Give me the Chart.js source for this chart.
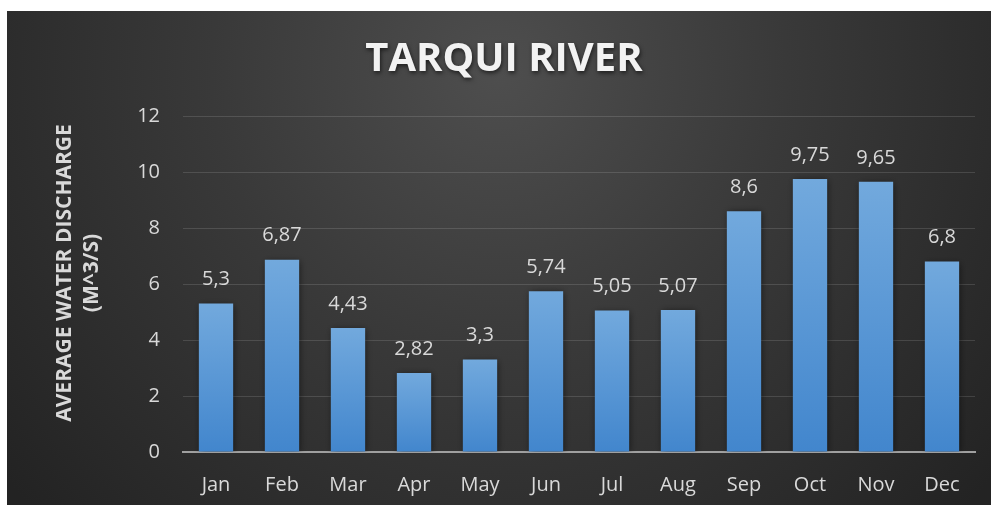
<!DOCTYPE html>
<html>
<head>
<meta charset="utf-8">
<script src="https://cdn.jsdelivr.net/npm/chart.js@4.4.0/dist/chart.umd.min.js"></script>
<style>
  html, body { margin: 0; padding: 0; background: #fff; }
  #wrap { position: absolute; left: 7px; top: 11px; width: 984px; height: 494px; }
</style>
</head>
<body>
<div id="wrap"><canvas id="myChart"></canvas></div>
<script>
// data
const months = ['Jan', 'Feb', 'Mar', 'Apr', 'May', 'Jun', 'Jul', 'Aug', 'Sep', 'Oct', 'Nov', 'Dec']
const discharge = [5.3, 6.87, 4.43, 2.82, 3.3, 5.74, 5.05, 5.07, 8.6, 9.75, 9.65, 6.8]
const yTicks = [0, 2, 4, 6, 8, 10, 12]
const chartTitle = 'TARQUI RIVER'
const yTitle = ['AVERAGE WATER DISCHARGE', '(M^3/S)']

const FONT = "'Open Sans', 'DejaVu Sans', sans-serif"

// dark background, lighter round the title
const bgPlugin = {
  id: 'bg',
  beforeDraw(chart) {
    const ctx = chart.ctx
    const w = chart.width, h = chart.height
    const g = ctx.createRadialGradient(w / 2, 60, 0, w / 2, 60, 640)
    g.addColorStop(0, '#4e4e4e')
    g.addColorStop(0.45, '#393939')
    g.addColorStop(1, '#232323')
    ctx.save()
    ctx.fillStyle = g
    ctx.fillRect(0, 0, w, h)
    ctx.restore()
  }
}

// soft shadow behind the bars
const shadowPlugin = {
  id: 'barShadow',
  beforeDatasetsDraw(chart) {
    chart.ctx.save()
    chart.ctx.shadowColor = 'rgba(0,0,0,0.55)'
    chart.ctx.shadowBlur = 7
    chart.ctx.shadowOffsetX = 1
    chart.ctx.shadowOffsetY = 1
  },
  afterDatasetsDraw(chart) {
    chart.ctx.restore()
  }
}

// value labels above each bar, comma decimals
const labelPlugin = {
  id: 'valueLabels',
  afterDatasetsDraw(chart) {
    const ctx = chart.ctx
    const meta = chart.getDatasetMeta(0)
    ctx.save()
    ctx.font = '20px ' + FONT
    ctx.fillStyle = '#d9d9d9'
    ctx.textAlign = 'center'
    ctx.textBaseline = 'middle'
    meta.data.forEach((bar, i) => {
      const txt = String(discharge[i]).replace('.', ',')
      ctx.fillText(txt, bar.x, bar.y - 24)
    })
    ctx.restore()
  }
}

// chart title with a little shadow, and the two-line vertical axis title
const titlesPlugin = {
  id: 'titles',
  afterDraw(chart) {
    const ctx = chart.ctx
    const area = chart.chartArea

    ctx.save()
    ctx.font = 'bold 40px ' + FONT
    ctx.fillStyle = '#f2f2f2'
    ctx.textAlign = 'center'
    ctx.textBaseline = 'middle'
    ctx.shadowColor = 'rgba(0,0,0,0.6)'
    ctx.shadowBlur = 4
    ctx.shadowOffsetX = 1
    ctx.shadowOffsetY = 2
    ctx.fillText(chartTitle, 497, 49)
    ctx.restore()

    const cy = (area.top + area.bottom) / 2 - 11
    ctx.save()
    ctx.font = 'bold 21px ' + FONT
    ctx.fillStyle = '#d9d9d9'
    ctx.textAlign = 'center'
    ctx.textBaseline = 'middle'
    yTitle.forEach((line, i) => {
      ctx.save()
      ctx.translate(58 + i * 27, cy)
      ctx.rotate(-Math.PI / 2)
      ctx.fillText(line, 0, 0)
      ctx.restore()
    })
    ctx.restore()
  }
}

function barGradient(context) {
  const chart = context.chart
  const yScale = chart.scales.y
  if (!chart.chartArea || !yScale) return '#5b9bd5'
  const top = yScale.getPixelForValue(context.raw)
  const bottom = yScale.getPixelForValue(0)
  if (!isFinite(top) || !isFinite(bottom) || top === bottom) return '#5b9bd5'
  const g = chart.ctx.createLinearGradient(0, top, 0, bottom)
  g.addColorStop(0, 'rgb(114,169,221)')
  g.addColorStop(1, 'rgb(66,134,205)')
  return g
}

const ctx = document.getElementById('myChart')
new Chart(ctx, {
  type: 'bar',
  data: {
    labels: months,
    datasets: [{
      label: 'Average water discharge',
      data: discharge,
      backgroundColor: barGradient,
      borderWidth: 0,
      categoryPercentage: 1,
      barPercentage: 0.52
    }]
  },
  options: {
    responsive: true,
    maintainAspectRatio: false,
    animation: false,
    layout: { padding: { left: 0, right: 16, top: 105, bottom: 0 } },
    plugins: {
      legend: { display: false },
      tooltip: { enabled: false },
      title: { display: false }
    },
    scales: {
      x: {
        grid: { display: false, drawTicks: false },
        border: { display: true, color: '#a0a0a0', width: 2 },
        ticks: { color: '#d9d9d9', font: { family: FONT, size: 20 }, padding: 21, maxRotation: 0 },
        afterFit(s) { s.height = 53 }
      },
      y: {
        min: 0,
        max: 12,
        afterBuildTicks(s) { s.ticks = yTicks.map(v => ({ value: v })) },
        grid: { color: 'rgba(255,255,255,0.13)', lineWidth: 1, drawTicks: false },
        border: { display: false },
        ticks: { color: '#d9d9d9', font: { family: FONT, size: 20 }, padding: 23 },
        afterFit(s) { s.width = 176 }
      }
    }
  },
  plugins: [bgPlugin, shadowPlugin, labelPlugin, titlesPlugin]
})
</script>
</body>
</html>
